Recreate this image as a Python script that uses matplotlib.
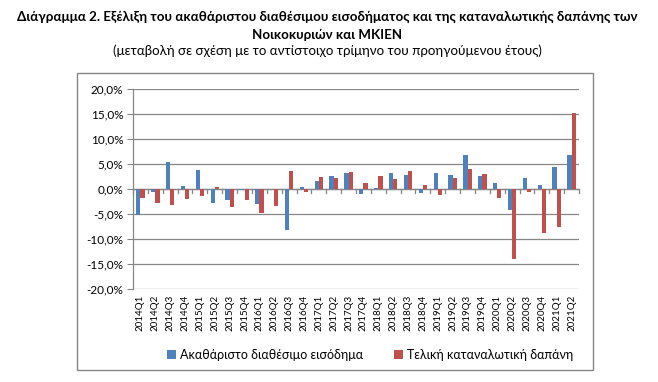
import matplotlib
matplotlib.use("Agg")
import matplotlib.pyplot as plt
from matplotlib.patches import Rectangle
from matplotlib.ticker import FuncFormatter, FixedLocator
import numpy as np

plt.rcParams['font.family'] = ['Lato', 'DejaVu Sans']

quarters = ["2014Q1", "2014Q2", "2014Q3", "2014Q4", "2015Q1", "2015Q2", "2015Q3", "2015Q4",
            "2016Q1", "2016Q2", "2016Q3", "2016Q4", "2017Q1", "2017Q2", "2017Q3", "2017Q4",
            "2018Q1", "2018Q2", "2018Q3", "2018Q4", "2019Q1", "2019Q2", "2019Q3", "2019Q4",
            "2020Q1", "2020Q2", "2020Q3", "2020Q4", "2021Q1", "2021Q2"]
income = [-5.2, -0.5, 5.5, 0.7, 3.9, -2.7, -2.1, -0.1,
          -3.0, 0.0, -8.2, 0.5, 1.6, 2.7, 3.3, -1.0,
          0.3, 3.3, 2.9, -0.8, 3.3, 2.9, 6.9, 2.7,
          1.2, -4.1, 2.3, 0.8, 4.5, 6.9]
consumption = [-1.7, -2.8, -3.1, -2.0, -1.3, 0.5, -3.5, -2.1,
               -4.8, -3.3, 3.6, -0.5, 2.5, 2.3, 3.5, 1.2,
               2.7, 2.1, 3.7, 0.8, -1.2, 2.2, 4.1, 3.1,
               -1.7, -14.0, -0.5, -8.8, -7.5, 15.3]
series_names = ["Ακαθάριστο διαθέσιμο εισόδημα", "Τελική καταναλωτική δαπάνη"]
y_ticks = [-20, -15, -10, -5, 0, 5, 10, 15, 20]

title1 = "Διάγραμμα 2. Εξέλιξη του ακαθάριστου διαθέσιμου εισοδήματος και της καταναλωτικής δαπάνης των"
title2 = "Νοικοκυριών και ΜΚΙΕΝ"
subtitle = "(μεταβολή σε σχέση με το αντίστοιχο τρίμηνο του προηγούμενου έτους)"

blue = "#4F81BD"
red = "#C0504D"
grid_c = "#868686"

W, H = 658, 382
fig = plt.figure(figsize=(W / 100, H / 100), dpi=100)

# chart border
fig.patches.append(Rectangle((77 / W, 1 - 370 / H), (593 - 77) / W, (370 - 73) / H,
                             transform=fig.transFigure, fill=False,
                             edgecolor=grid_c, linewidth=1.0))

fig.text(0.497, 1 - 17 / H, title1, ha="center", va="center", fontsize=9.6, fontweight="bold")
fig.text(0.497, 1 - 35 / H, title2, ha="center", va="center", fontsize=9.6, fontweight="bold")
fig.text(0.497, 1 - 51 / H, subtitle, ha="center", va="center", fontsize=9.6)

ax = fig.add_axes([133 / W, 1 - 289 / H, (579 - 133) / W, (289 - 89) / H])
x = np.arange(len(quarters))
bw = 1 / 3.5
ax.bar(x - bw / 2, income, width=bw, color=blue, label=series_names[0], zorder=3)
ax.bar(x + bw / 2, consumption, width=bw, color=red, label=series_names[1], zorder=3)

ax.set_xlim(-0.5, len(quarters) - 0.5)
ax.set_ylim(-20, 20)
ax.set_yticks(y_ticks)
ax.yaxis.set_major_formatter(FuncFormatter(lambda v, p: f"{v:.1f}%".replace(".", ",")))
ax.grid(axis="y", color=grid_c, linewidth=0.9, zorder=0)
for s in ["top", "right", "bottom"]:
    ax.spines[s].set_visible(False)
ax.spines["left"].set_color(grid_c)
ax.spines["left"].set_linewidth(0.9)
ax.tick_params(axis="y", length=4, color=grid_c, labelsize=8.5, pad=3)

ax.axhline(0, color=grid_c, linewidth=0.9, zorder=2)
# category separators on zero line
ax.set_xticks(x)
ax.set_xticklabels(quarters, rotation=90, fontsize=7)
ax.tick_params(axis="x", length=0, pad=110 - 3)
for xi in np.arange(-0.5, len(quarters), 1.0):
    ax.plot([xi, xi], [0, -0.8], color=grid_c, linewidth=0.9, zorder=2, clip_on=False)

# reposition x labels just below the axes bottom
ax.tick_params(axis="x", pad=4)

handles, labels = ax.get_legend_handles_labels()
fig.legend(handles, labels, loc="center", bbox_to_anchor=(370 / W, 1 - 355 / H),
           ncol=2, frameon=False, fontsize=9, handlelength=0.7, handleheight=0.7,
           columnspacing=2.5, handletextpad=0.3)

fig.savefig("out.png", dpi=100)
